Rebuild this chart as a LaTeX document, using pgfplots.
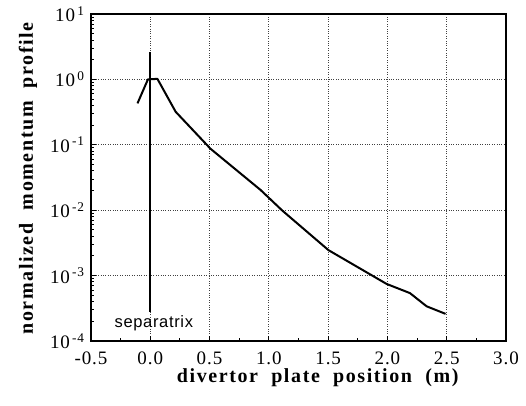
\documentclass[border=0pt]{standalone}
\usepackage{fontspec}
\setmainfont{Liberation Serif}
\newfontfamily\sansf[LetterSpace=4]{Liberation Sans}
\newfontfamily\labfont[LetterSpace=8]{Liberation Serif}
\newfontfamily\tickfont[LetterSpace=5]{Liberation Serif}
\usepackage{pgfplots}
\pgfplotsset{compat=1.18}
\begin{document}
\begin{tikzpicture}[x=1pt,y=1pt]
\begin{axis}[
  scale only axis,
  width=415pt, height=327pt,
  xmin=-0.5, xmax=3.0,
  ymode=log, ymin=1e-4, ymax=10,
  xtick={-0.5,0,0.5,1,1.5,2,2.5,3},
  xticklabels={-0.5,0.0,0.5,1.0,1.5,2.0,2.5,3.0},
  minor xtick={-0.25,0.25,0.75,1.25,1.75,2.25,2.75},
  ytick={1e-4,1e-3,1e-2,1e-1,1,10},
  yticklabels={10\textsuperscript{\,-4},10\textsuperscript{\,-3},10\textsuperscript{\,-2},10\textsuperscript{\,-1},10\textsuperscript{\,0},10\textsuperscript{\,1}},
  tick pos=left,
  tick align=inside,
  major tick length=5pt, minor tick length=3pt,
  every tick/.style={black, line width=0.9pt},
  axis line style={line width=1.8pt},
  grid=major,
  major grid style={black!75, dotted, line width=0.9pt},
  ticklabel style={font=\tickfont\fontsize{19}{19}\selectfont},
  xticklabel style={yshift=-7pt},
  yticklabel style={xshift=-3pt},
  /pgf/number format/assume math mode=true,
  xlabel={\textbf{divertor\ \ plate\ \ position\ \ (m)}},
  ylabel={\textbf{normalized\ \ momentum\ \ profile}},
  label style={font=\labfont\fontsize{20}{20}\selectfont},
  xlabel style={at={(axis description cs:0.5,0)}, anchor=center, xshift=20pt, yshift=-37pt},
  ylabel style={at={(axis description cs:0,0.5)}, anchor=center, yshift=63pt},
]
\addplot[black, line width=2pt, line join=round] coordinates {
  (-0.108,0.43) (-0.02,1.0) (0.06,1.02) (0.214,0.32) (0.508,0.087)
  (0.93,0.0204) (1.11,0.01) (1.503,0.00245) (1.993,0.000746)
  (2.19,0.00054) (2.33,0.00034) (2.49,0.00026)
};
\addplot[black, line width=2pt] coordinates {(0,2.6) (0,2.75e-4)};
\node[font=\sansf\fontsize{16.5}{16.5}\selectfont] at (axis cs:0.03,1.86e-4) {separatrix};
\coordinate (sw) at (rel axis cs:0,0);
\coordinate (ne) at (rel axis cs:1,1);
\end{axis}
\pgfresetboundingbox
\path ([shift={(-91pt,-64pt)}]sw) rectangle ([shift={(20pt,14pt)}]ne);
\end{tikzpicture}
\end{document}
